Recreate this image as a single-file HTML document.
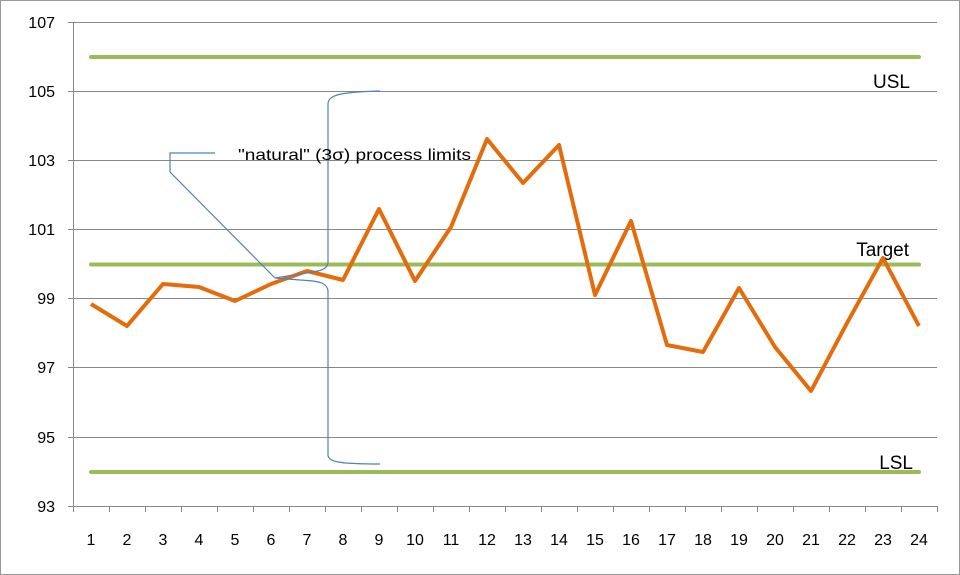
<!DOCTYPE html>
<html><head><meta charset="utf-8"><style>
html,body{margin:0;padding:0;background:#fff}
svg{display:block;font-family:"Liberation Sans",sans-serif}
</style></head><body>
<svg width="960" height="575" viewBox="0 0 960 575">
<rect x="0.5" y="0.5" width="959" height="574" fill="#fff" stroke="#999"/>
<g stroke="#888" stroke-width="1">
<line x1="73" y1="22.5" x2="937" y2="22.5"/>
<line x1="73" y1="91.5" x2="937" y2="91.5"/>
<line x1="73" y1="160.5" x2="937" y2="160.5"/>
<line x1="73" y1="229.5" x2="937" y2="229.5"/>
<line x1="73" y1="298.5" x2="937" y2="298.5"/>
<line x1="73" y1="367.5" x2="937" y2="367.5"/>
<line x1="73" y1="437.5" x2="937" y2="437.5"/>
<line x1="73" y1="506.5" x2="937" y2="506.5"/>
<line x1="73.5" y1="22" x2="73.5" y2="506"/>
</g>
<g stroke="#888">
<path d="M68 22.5h5M68 91.5h5M68 160.5h5M68 229.5h5M68 298.5h5M68 367.5h5M68 437.5h5M68 506.5h5"/>
<path d="M73.5 506v6M109.5 506v6M145.5 506v6M181.5 506v6M217.5 506v6M253.5 506v6M289.5 506v6M325.5 506v6M361.5 506v6M397.5 506v6M433.5 506v6M469.5 506v6M505.5 506v6M541.5 506v6M577.5 506v6M613.5 506v6M649.5 506v6M685.5 506v6M721.5 506v6M757.5 506v6M793.5 506v6M829.5 506v6M865.5 506v6M901.5 506v6M937.5 506v6"/>
</g>
<g font-size="16" fill="#000" text-anchor="end">
<text x="55" y="28">107</text><text x="55" y="97">105</text><text x="55" y="166">103</text><text x="55" y="235">101</text><text x="55" y="304">99</text><text x="55" y="373">97</text><text x="55" y="443">95</text><text x="55" y="512">93</text>
</g>
<g font-size="16" fill="#000" text-anchor="middle">
<text x="91" y="545">1</text><text x="127" y="545">2</text><text x="163" y="545">3</text><text x="199" y="545">4</text><text x="235" y="545">5</text><text x="271" y="545">6</text><text x="307" y="545">7</text><text x="343" y="545">8</text><text x="379" y="545">9</text><text x="415" y="545">10</text><text x="451" y="545">11</text><text x="487" y="545">12</text><text x="523" y="545">13</text><text x="559" y="545">14</text><text x="595" y="545">15</text><text x="631" y="545">16</text><text x="667" y="545">17</text><text x="703" y="545">18</text><text x="739" y="545">19</text><text x="775" y="545">20</text><text x="811" y="545">21</text><text x="847" y="545">22</text><text x="883" y="545">23</text><text x="919" y="545">24</text>
</g>
<g stroke="#9bbb59" stroke-width="4" stroke-linecap="round">
<line x1="91" y1="57" x2="919" y2="57"/>
<line x1="91" y1="264.5" x2="919" y2="264.5"/>
<line x1="91" y1="472" x2="919" y2="472"/>
</g>
<g font-size="19" fill="#000" text-anchor="end">
<text x="910" y="88">USL</text><text x="909" y="256">Target</text><text x="913" y="469">LSL</text>
</g>
<polyline fill="none" stroke="#e46c0a" stroke-width="4" stroke-linejoin="round" points="91,304 127,326 163,284 199,287 235,301 271,284 307,271 343,280 379,209 415,281 451,227 487,139 523,183 559,145 595,295 631,221 667,345 703,352 739,288 775,347 811,391 847,323 883,258 919,326"/>
<g fill="none" stroke="#4f81bd" stroke-width="1.2">
<path d="M380 91 C340 92 328 95 328 104 L328 262 C328 270 320 271 300 274 L275 278 L300 280 C320 281 328 283 328 292 L328 455 C328 462 340 464 380 464"/>
<path d="M275 278 L170 172 L170 153 L215 153"/>
</g>
<text x="238" y="160" font-size="16" fill="#000" textLength="233" lengthAdjust="spacingAndGlyphs">"natural" (3σ) process limits</text>
</svg>
</body></html>
